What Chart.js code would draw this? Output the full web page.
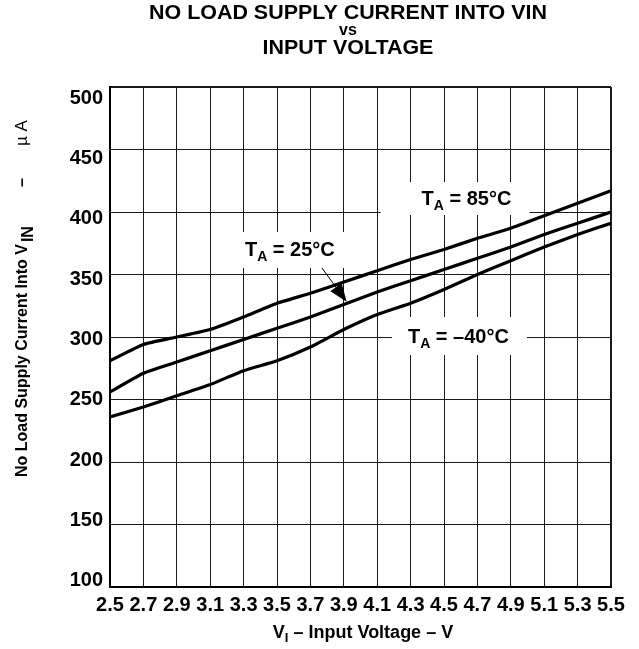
<!DOCTYPE html>
<html lang="en">
<head>
<meta charset="UTF-8">
<title>No Load Supply Current Into VIN vs Input Voltage</title>
<script src="https://cdn.jsdelivr.net/npm/chart.js"></script>
<style>
  html, body { margin: 0; padding: 0; background: #fff; }
</style>
</head>
<body>
<canvas id="supplyChart" width="639" height="649"></canvas>
<script>
// input voltage (V) on the x axis, current ticks (uA) on the y axis
const voltages = [2.5, 2.7, 2.9, 3.1, 3.3, 3.5, 3.7, 3.9, 4.1, 4.3, 4.5, 4.7, 4.9, 5.1, 5.3, 5.5];
const currentTicks = [100, 150, 200, 250, 300, 350, 400, 450, 500];

// supply current (uA)
const current85 = [281, 294, 300, 306, 316, 327, 335, 344, 353, 362, 370, 379, 387, 397, 407, 417];
const current25 = [256, 271, 280, 289, 298, 307, 316, 326, 336, 345, 354, 363, 372, 382, 391, 400];
const currentMinus40 = [236, 244, 253, 262, 273, 281, 292, 306, 318, 327, 338, 350, 361, 372, 382, 391];

const tempLabels = ['85°C', '25°C', '\u201340°C'];

const FONT = '"Liberation Sans", Arial, Helvetica, sans-serif';

// curve labels: anchor is text left / cap middle (in data units), box is a white patch in px around it
const notes = [
  { x: 4.366, y: 411.2, text: tempLabels[0], box: [-41, 108, -16, 17] },
  { x: 3.308, y: 370.4, text: tempLabels[1], box: [-9, 105, -17, 19] },
  { x: 4.284, y: 300.8, text: tempLabels[2], box: [-16, 119, -19, 19] }
];
const arrow25 = { from: [3.769, 355.2], to: [3.917, 328.2] };

function points(ys) {
  return voltages.map((v, i) => ({ x: v, y: ys[i] }));
}

function drawTA(ctx, x, y, rest) {
  // y is the baseline
  ctx.font = 'bold 20px ' + FONT;
  ctx.fillText('T', x, y);
  let w = ctx.measureText('T').width;
  ctx.font = 'bold 14px ' + FONT;
  ctx.fillText('A', x + w, y + 5);
  w += ctx.measureText('A').width;
  ctx.font = 'bold 20px ' + FONT;
  ctx.fillText(' = ' + rest, x + w, y);
}

// title text, stretched slightly (k) to the width of the original
function titleLine(ctx, text, size, cx, cy, k) {
  ctx.font = 'bold ' + size + 'px ' + FONT;
  ctx.save();
  ctx.translate(cx, cy);
  ctx.scale(k, 1);
  ctx.fillText(text, 0, 0);
  ctx.restore();
}

const notesPlugin = {
  id: 'notes',
  beforeDatasetsDraw(chart) {
    const { ctx, scales } = chart;
    ctx.save();
    ctx.fillStyle = '#fff';
    notes.forEach(n => {
      const px = scales.x.getPixelForValue(n.x);
      const py = scales.y.getPixelForValue(n.y);
      ctx.fillRect(px + n.box[0], py + n.box[2], n.box[1] - n.box[0], n.box[3] - n.box[2]);
    });
    ctx.restore();
  },
  afterDatasetsDraw(chart) {
    const { ctx, scales } = chart;
    ctx.save();
    ctx.fillStyle = '#000';
    ctx.textBaseline = 'alphabetic';
    ctx.textAlign = 'left';
    notes.forEach(n => {
      const px = scales.x.getPixelForValue(n.x);
      const py = scales.y.getPixelForValue(n.y);
      drawTA(ctx, px, py + 7, n.text);
    });

    // arrow pointing at the 25 degC curve
    const x0 = scales.x.getPixelForValue(arrow25.from[0]);
    const y0 = scales.y.getPixelForValue(arrow25.from[1]);
    const x1 = scales.x.getPixelForValue(arrow25.to[0]);
    const y1 = scales.y.getPixelForValue(arrow25.to[1]);
    const ang = Math.atan2(y1 - y0, x1 - x0);
    ctx.strokeStyle = '#000';
    ctx.lineWidth = 1;
    ctx.beginPath();
    ctx.moveTo(x0, y0);
    ctx.lineTo(x1 - 12 * Math.cos(ang), y1 - 12 * Math.sin(ang));
    ctx.stroke();
    ctx.beginPath();
    ctx.moveTo(x1, y1);
    ctx.lineTo(x1 - 18 * Math.cos(ang) + 7 * Math.sin(ang), y1 - 18 * Math.sin(ang) - 7 * Math.cos(ang));
    ctx.lineTo(x1 - 18 * Math.cos(ang) - 7 * Math.sin(ang), y1 - 18 * Math.sin(ang) + 7 * Math.cos(ang));
    ctx.closePath();
    ctx.fill();
    ctx.restore();
  },
  afterDraw(chart) {
    const { ctx, chartArea } = chart;
    ctx.save();
    ctx.fillStyle = '#000';

    // chart title
    ctx.textAlign = 'center';
    ctx.textBaseline = 'middle';
    ctx.font = 'bold 20px ' + FONT;
    const k = 398 / ctx.measureText('NO LOAD SUPPLY CURRENT INTO VIN').width;
    titleLine(ctx, 'NO LOAD SUPPLY CURRENT INTO VIN', 20, 348, 13, k);
    titleLine(ctx, 'vs', 16, 348, 31, 1);
    titleLine(ctx, 'INPUT VOLTAGE', 20, 348, 48, k);

    // x axis title: V_I - Input Voltage - V
    ctx.textAlign = 'left';
    ctx.textBaseline = 'alphabetic';
    const xa = ['V', 'I', ' \u2013 Input Voltage \u2013 V'];
    ctx.font = 'bold 18px ' + FONT;
    const w0 = ctx.measureText(xa[0]).width;
    const w2 = ctx.measureText(xa[2]).width;
    ctx.font = 'bold 13px ' + FONT;
    const w1 = ctx.measureText(xa[1]).width;
    const sx = 363 - (w0 + w1 + w2) / 2;
    const by = chartArea.bottom + 51;
    ctx.font = 'bold 18px ' + FONT;
    ctx.fillText(xa[0], sx, by);
    ctx.font = 'bold 13px ' + FONT;
    ctx.fillText(xa[1], sx + w0, by + 4);
    ctx.font = 'bold 18px ' + FONT;
    ctx.fillText(xa[2], sx + w0 + w1, by);

    // y axis title: No Load Supply Current Into V_IN - uA
    ctx.translate(27, 293);
    ctx.rotate(-Math.PI / 2);
    ctx.font = 'bold 16px ' + FONT;
    const ya = 'No Load Supply Current Into V';
    const wy = ctx.measureText(ya).width;
    let ty = -184;
    ctx.fillText(ya, ty, 0);
    ty += wy + 2;
    ctx.fillText('IN', ty, 6);
    ty += ctx.measureText('IN').width;
    ctx.fillText('\u2013', ty + 39, 0);
    ctx.font = '17px ' + FONT;
    ctx.fillText('\u00b5 A', ty + 80, 0);
    ctx.restore();
  }
};

const gridColor = '#1a1a1a';
const tickFont = { family: FONT, size: 20, weight: 'bold' };

new Chart(document.getElementById('supplyChart').getContext('2d'), {
  type: 'line',
  data: {
    datasets: [
      { label: 'TA = ' + tempLabels[0], data: points(current85) },
      { label: 'TA = ' + tempLabels[1], data: points(current25) },
      { label: 'TA = ' + tempLabels[2], data: points(currentMinus40) }
    ].map(d => Object.assign(d, {
      borderColor: '#000',
      borderWidth: 3.2,
      pointRadius: 0,
      tension: 0.15,
      fill: false
    }))
  },
  options: {
    responsive: false,
    animation: false,
    layout: { padding: { top: 87, right: 28, left: 0, bottom: 0 } },
    plugins: {
      legend: { display: false },
      tooltip: { enabled: false },
      title: { display: false }
    },
    scales: {
      x: {
        type: 'linear',
        min: 2.5,
        max: 5.5,
        afterBuildTicks: s => { s.ticks = voltages.map(v => ({ value: v })); },
        afterFit: s => { s.height = 62; },
        ticks: {
          font: tickFont,
          color: '#000',
          padding: 6,
          autoSkip: false,
          maxRotation: 0,
          minRotation: 0,
          callback: v => v.toFixed(1)
        },
        grid: {
          color: gridColor,
          lineWidth: c => (c.tick && c.tick.value === 5.5 ? 2 : 1),
          drawTicks: false
        },
        border: { color: '#000', width: 2 }
      },
      y: {
        min: 100,
        max: 500,
        afterBuildTicks: s => { s.ticks = currentTicks.map(v => ({ value: v })); },
        afterFit: s => { s.width = 0; },
        ticks: { display: false },
        grid: {
          color: gridColor,
          lineWidth: c => (c.tick && c.tick.value === 500 ? 2 : 1),
          drawTicks: false
        },
        border: { color: '#000', width: 2 }
      },
      yLabels: {
        position: 'left',
        min: 95,
        max: 509.1,
        afterBuildTicks: s => { s.ticks = currentTicks.map(v => ({ value: v })); },
        afterFit: s => { s.width = 110; },
        ticks: { font: tickFont, color: '#000', padding: 7 },
        grid: { display: false, drawTicks: false },
        border: { display: false }
      }
    }
  },
  plugins: [notesPlugin]
});
</script>
</body>
</html>
